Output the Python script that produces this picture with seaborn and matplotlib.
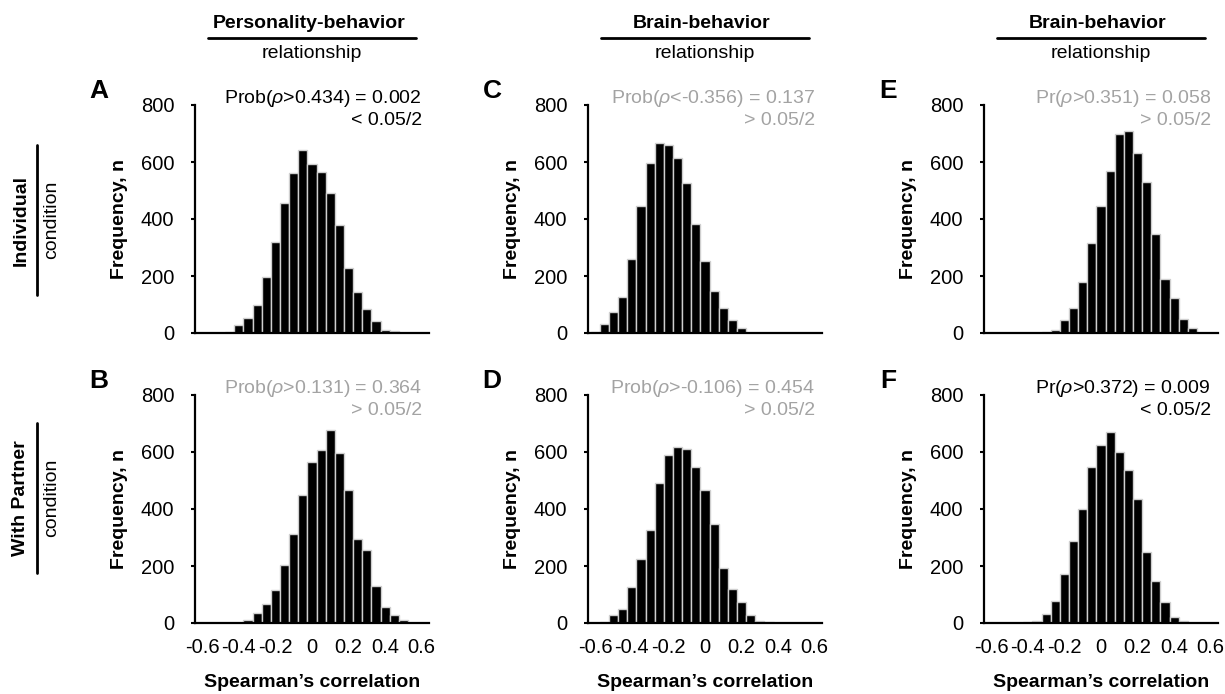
import matplotlib
matplotlib.use("Agg")
import matplotlib.pyplot as plt
from matplotlib.lines import Line2D
import seaborn as sns

# bin centres (Spearman's rho, bin width 0.05) and permutation counts per panel
a_rho = [-0.50, -0.45, -0.40, -0.35, -0.30, -0.25, -0.20, -0.15, -0.10, -0.05,
         0.00, 0.05, 0.10, 0.15, 0.20, 0.25, 0.30, 0.35, 0.40, 0.45]
a_n = [1, 5, 29, 52, 98, 198, 321, 457, 563, 642,
       594, 565, 492, 380, 229, 143, 85, 43, 9, 6]

b_rho = [-0.35, -0.30, -0.25, -0.20, -0.15, -0.10, -0.05, 0.00, 0.05,
         0.10, 0.15, 0.20, 0.25, 0.30, 0.35, 0.40, 0.45, 0.50]
b_n = [9, 36, 67, 115, 203, 314, 448, 566, 608,
       678, 595, 467, 295, 256, 130, 56, 29, 9]

c_rho = [-0.60, -0.55, -0.50, -0.45, -0.40, -0.35, -0.30, -0.25, -0.20,
         -0.15, -0.10, -0.05, 0.00, 0.05, 0.10, 0.15, 0.20]
c_n = [5, 31, 75, 127, 259, 444, 598, 668, 659,
       615, 527, 382, 251, 148, 89, 44, 19]

d_rho = [-0.55, -0.50, -0.45, -0.40, -0.35, -0.30, -0.25, -0.20, -0.15, -0.10,
         -0.05, 0.00, 0.05, 0.10, 0.15, 0.20, 0.25, 0.30, 0.35]
d_n = [5, 27, 48, 126, 223, 328, 491, 588, 617, 612,
       549, 466, 347, 194, 120, 72, 29, 7, 3]

e_rho = [-0.30, -0.25, -0.20, -0.15, -0.10, -0.05, 0.00, 0.05, 0.10,
         0.15, 0.20, 0.25, 0.30, 0.35, 0.40, 0.45, 0.50]
e_n = [5, 12, 44, 89, 178, 315, 444, 567, 699,
       709, 631, 531, 349, 191, 124, 48, 16]

f_rho = [-0.40, -0.35, -0.30, -0.25, -0.20, -0.15, -0.10, -0.05, 0.00,
         0.05, 0.10, 0.15, 0.20, 0.25, 0.30, 0.35, 0.40, 0.45]
f_n = [3, 7, 33, 78, 171, 287, 400, 549, 626,
       671, 600, 536, 436, 248, 149, 73, 21, 7]

letters = ["A", "B", "C", "D", "E", "F"]
stats = [r"Prob($\rho$>0.434) = 0.002", r"Prob($\rho$>0.131) = 0.364",
         r"Prob($\rho$<-0.356) = 0.137", r"Prob($\rho$>-0.106) = 0.454",
         r"Pr($\rho$>0.351) = 0.058", r"Pr($\rho$>0.372) = 0.009"]
verdicts = ["< 0.05/2", "> 0.05/2", "> 0.05/2", "> 0.05/2", "> 0.05/2", "< 0.05/2"]
significant = [True, False, False, False, False, True]

col_titles = ["Personality-behavior", "Brain-behavior", "Brain-behavior"]
row_titles = ["Individual", "With Partner"]

x_ticks = [-0.6, -0.4, -0.2, 0, 0.2, 0.4, 0.6]
x_ticklabels = ["-0.6", "-0.4", "-0.2", "0", "0.2", "0.4", "0.6"]
y_ticks = [0, 200, 400, 600, 800]

sns.set_style("ticks")
plt.rcParams["font.family"] = ["Liberation Sans", "DejaVu Sans"]
plt.rcParams["mathtext.fontset"] = "custom"
plt.rcParams["mathtext.it"] = "Liberation Sans:italic"
plt.rcParams["mathtext.rm"] = "Liberation Sans"
for key in ["text.color", "axes.labelcolor", "xtick.color", "ytick.color", "axes.edgecolor"]:
    plt.rcParams[key] = "black"

W, H = 1225, 694
fig = plt.figure(figsize=(W / 100, H / 100), dpi=100)


def fx(x):
    return x / W


def fy(y):
    return 1 - y / H


lefts = [195, 588, 984]
tops = [105, 395]
ax_w, ax_h = 234, 228

data = [(a_rho, a_n), (b_rho, b_n), (c_rho, c_n), (d_rho, d_n), (e_rho, e_n), (f_rho, f_n)]
grey = "#a3a3a3"

for i, (rho, n) in enumerate(data):
    col, row = i // 2, i % 2
    ax = fig.add_axes([fx(lefts[col]), fy(tops[row] + ax_h), ax_w / W, ax_h / H])
    sns.histplot(x=rho, weights=n, binwidth=0.05, binrange=(-0.625, 0.625),
                 color="black", edgecolor="#cfcfcf", linewidth=1.0, alpha=1, ax=ax)
    ax.set_xlim(-0.64, 0.64)
    ax.set_ylim(0, 800)
    ax.set_xticks(x_ticks)
    ax.set_xticklabels(x_ticklabels)
    ax.set_yticks(y_ticks)
    ax.tick_params(axis="x", length=0, pad=11, labelsize=14.5)
    ax.tick_params(axis="y", length=3, width=1.5, pad=12, labelsize=14.5)
    sns.despine(ax=ax)
    for s in ["left", "bottom"]:
        ax.spines[s].set_linewidth(1.6)

    ax.set_ylabel("Frequency, n", fontsize=14, fontweight="bold")
    ax.yaxis.set_label_coords(-0.285, 0.5)
    if row == 1:
        ax.set_xlabel("Spearman’s correlation", fontsize=14, fontweight="bold")
        ax.xaxis.set_label_coords(0.5, -0.225)
    else:
        ax.set_xlabel("")
        ax.set_xticklabels([])

    c = "black" if significant[i] else grey
    ax.text(0.97, 1.03, stats[i], transform=ax.transAxes, ha="right", va="center",
            fontsize=14, color=c)
    ax.text(0.97, 0.93, verdicts[i], transform=ax.transAxes, ha="right", va="center",
            fontsize=14, color=c)
    ax.text(-0.41, 1.06, letters[i], transform=ax.transAxes, ha="center", va="center",
            fontsize=19, fontweight="bold")

# column headers
for col, title in enumerate(col_titles):
    cx = lefts[col] + ax_w / 2
    fig.text(fx(cx - 3), fy(23), title, ha="center", va="center", fontsize=14, fontweight="bold")
    fig.add_artist(Line2D([fx(cx - 104), fx(cx + 104)], [fy(38), fy(38)], color="black", lw=2))
    fig.text(fx(cx), fy(53), "relationship", ha="center", va="center", fontsize=14)

# row headers
for row, (title, cy) in enumerate(zip(row_titles, [220, 498])):
    fig.text(fx(21), fy(cy), title, rotation=90, ha="center", va="center",
             fontsize=14, fontweight="bold")
    fig.add_artist(Line2D([fx(37), fx(37)], [fy(cy - 75), fy(cy + 75)], color="black", lw=2))
    fig.text(fx(52), fy(cy), "condition", rotation=90, ha="center", va="center", fontsize=14)

fig.savefig("out.png", dpi=100)
